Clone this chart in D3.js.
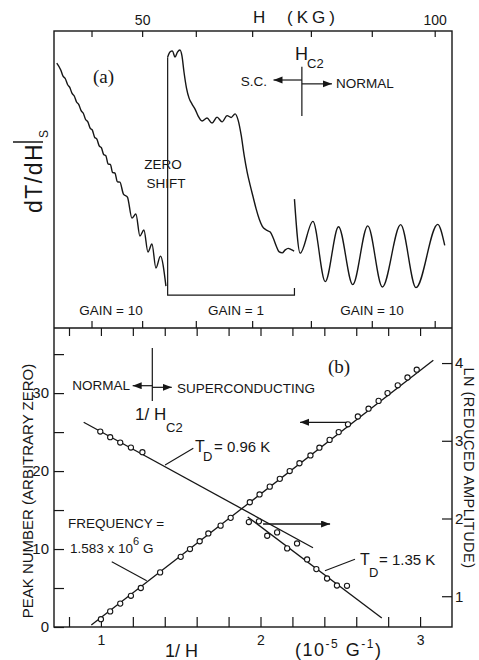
<!DOCTYPE html>
<html>
<head>
<meta charset="utf-8">
<script src="https://cdn.jsdelivr.net/npm/d3@7/dist/d3.min.js"></script>
<style>
body { margin: 0; background: #fff; }
text { font-family: "Liberation Sans", Arial, sans-serif; fill: #161616; }
.serif { font-family: "Liberation Serif", "Times New Roman", serif; }
.axis line { stroke: #161616; stroke-width: 1.2; }
.axis text { fill: #161616; }
</style>
</head>
<body>
<script>
// ---- panel (a): field sweep, H in kG, signal in arbitrary units ----
const hTicks = [40, 50, 60, 70, 80, 90, 100];
const hTickLabels = [50, 100];

// gain 10, superconducting side
const sweepLowGain10 = [
  [32.70, 89.2], [33.56, 86.9], [34.05, 84.8], [34.52, 84.0], [35.01, 82.0],
  [35.48, 81.0], [35.97, 79.0], [36.43, 78.1], [36.91, 76.1], [37.38, 75.2],
  [37.86, 73.2], [38.31, 72.3], [38.79, 70.2], [39.25, 69.4], [39.72, 67.3],
  [40.17, 66.6], [40.64, 64.2], [41.09, 63.6], [41.56, 61.3], [42.00, 60.7],
  [42.46, 58.4], [42.90, 58.0], [43.36, 55.2], [43.80, 55.1], [44.26, 52.3],
  [44.70, 52.2], [45.19, 49.2], [45.69, 49.1], [46.38, 45.1], [47.16, 44.1],
  [48.03, 37.0], [48.80, 38.4], [49.57, 31.0], [50.34, 33.0], [51.11, 25.6],
  [51.87, 28.3], [52.62, 20.2], [53.47, 24.2], [54.50, 14.1]
];
// gain 1, after the zero shift
const sweepGain1 = [
  [54.82, 91.2], [55.25, 92.9], [55.71, 93.3], [56.18, 91.2], [56.64, 92.9],
  [57.10, 93.6], [57.47, 91.6], [57.84, 86.2], [58.30, 80.8], [58.77, 77.4],
  [59.31, 75.4], [59.86, 73.7], [60.41, 71.4], [61.13, 69.7], [62.03, 70.7],
  [62.93, 69.0], [63.82, 71.0], [64.72, 69.4], [65.61, 71.5], [66.32, 70.9],
  [67.02, 72.1], [67.55, 70.0], [68.08, 65.0], [68.60, 58.2], [69.13, 52.5],
  [69.65, 48.1], [70.17, 44.1], [70.69, 40.1], [71.22, 36.7], [71.74, 34.3],
  [72.43, 33.0], [73.12, 32.3], [73.63, 30.3], [74.15, 27.6], [74.66, 25.6],
  [75.17, 25.3], [75.68, 26.3], [76.18, 26.8], [76.69, 26.4], [77.19, 25.9]
];
// gain 10, normal state
const sweepHighGain10 = [
  [77.24, 43.4], [78.20, 25.2], [80.34, 35.9], [82.39, 15.6], [84.58, 34.1],
  [86.91, 14.6], [89.35, 34.4], [91.70, 13.8], [94.63, 34.8], [97.06, 13.6],
  [100.47, 34.9], [101.57, 27.8]
];

// ---- panel (b): 1/H in 1e-5 G^-1 ----
const invHTicks = [0.8, 1.0, 1.2, 1.4, 1.6, 1.8, 2.0, 2.2, 2.4, 2.6, 2.8, 3.0];
const invHLabels = [1, 2, 3];
const peakTicks = [0, 5, 10, 15, 20, 25, 30, 35];
const peakLabels = [0, 10, 20, 30];
const lnTicks = [1, 2, 3, 4];

const peakInvH = [
  1.000, 1.058, 1.121, 1.188, 1.250, 1.371, 1.500, 1.558, 1.619, 1.673,
  1.750, 1.813, 1.933, 1.994, 2.058, 2.121, 2.183, 2.244, 2.313, 2.369,
  2.433, 2.490, 2.548, 2.610, 2.677, 2.740, 2.796, 2.860, 2.921, 2.979
];
const peakNumber = [
  1, 2, 3, 4, 5, 7, 9, 10, 11, 12,
  13, 14, 16, 17, 18, 19, 20, 21, 22, 23,
  24, 25, 26, 27, 28, 29, 30, 31, 32, 33
];

const ampInvH = [
  0.996, 1.058, 1.121, 1.188, 1.260, 1.927, 1.990, 2.042, 2.104, 2.167,
  2.229, 2.292, 2.350, 2.417, 2.479, 2.542
];
const lnAmplitude = [
  3.119, 3.046, 2.977, 2.913, 2.853, 1.954, 1.963, 1.778, 1.821, 1.615,
  1.679, 1.473, 1.349, 1.228, 1.138, 1.134
];

const fitFrequency = [[0.94, 0.26], [3.083, 34.2]];
const fitTd096 = [[0.892, 3.239], [2.329, 1.624]];
const fitTd135 = [[1.92, 2.02], [2.76, 0.721]];

// ---- layout ----
const W = 479, H = 660;
const xLeft = 54, xRight = 452, yTop = 31, yMid = 328, yBottom = 627;

const svg = d3.select("body").append("svg")
  .attr("width", W).attr("height", H);

svg.append("defs").append("marker")
  .attr("id", "head")
  .attr("markerUnits", "userSpaceOnUse")
  .attr("markerWidth", 10).attr("markerHeight", 8)
  .attr("refX", 9).attr("refY", 3.5)
  .attr("orient", "auto")
  .append("path").attr("d", "M0,0 L9,3.5 L0,7 Z").attr("fill", "#161616");

// the recorder's field axis is slightly non-linear
const xH = d3.scalePow().exponent(1.29).domain([32.1, 102.7]).range([xLeft, xRight]);
const yA = d3.scaleLinear().domain([0, 100]).range([yMid, yTop]);
const xB = d3.scaleLinear().domain([0.706, 3.2]).range([xLeft, xRight]);
const yPeak = d3.scaleLinear().domain([0, 38.35]).range([yBottom, yMid]);
const yLn = d3.scaleLinear().domain([0.604, 4.451]).range([yBottom, yMid]);

function styleAxis(g, size) {
  g.select(".domain").remove();
  g.attr("font-family", "Liberation Sans, Arial, sans-serif").attr("font-size", size);
}

// frame
svg.append("rect")
  .attr("x", xLeft).attr("y", yTop)
  .attr("width", xRight - xLeft).attr("height", yBottom - yTop)
  .attr("fill", "none").attr("stroke", "#161616").attr("stroke-width", 1.4);
svg.append("line")
  .attr("x1", xLeft).attr("x2", xRight).attr("y1", yMid).attr("y2", yMid)
  .attr("stroke", "#161616").attr("stroke-width", 1.4);

// axes
svg.append("g").attr("class", "axis")
  .attr("transform", `translate(0,${yTop})`)
  .call(d3.axisTop(xH).tickValues(hTicks).tickSize(-6).tickPadding(6)
    .tickFormat(d => hTickLabels.includes(d) ? d : ""))
  .call(g => styleAxis(g, 14));

svg.append("g").attr("class", "axis")
  .attr("transform", `translate(0,${yMid})`)
  .call(d3.axisBottom(xH).tickValues(hTicks).tickSize(-7).tickFormat(""))
  .call(g => styleAxis(g, 14));

svg.append("g").attr("class", "axis")
  .attr("transform", `translate(0,${yMid})`)
  .call(d3.axisTop(xB).tickValues(invHTicks).tickSize(-8).tickFormat(""))
  .call(g => styleAxis(g, 14));

svg.append("g").attr("class", "axis")
  .attr("transform", `translate(0,${yBottom})`)
  .call(d3.axisBottom(xB).tickValues(invHTicks).tickSize(-10).tickPadding(8)
    .tickFormat(d => invHLabels.includes(d) ? d : ""))
  .call(g => styleAxis(g, 14));

svg.append("g").attr("class", "axis")
  .attr("transform", `translate(${xLeft},0)`)
  .call(d3.axisLeft(yPeak).tickValues(peakTicks).tickSize(-10).tickPadding(5)
    .tickFormat(d => peakLabels.includes(d) ? d : ""))
  .call(g => styleAxis(g, 15));

svg.append("g").attr("class", "axis")
  .attr("transform", `translate(${xRight},0)`)
  .call(d3.axisRight(yLn).tickValues(lnTicks).tickSize(-10).tickPadding(3)
    .tickFormat(d3.format("d")))
  .call(g => styleAxis(g, 15));

// ---- panel (a) traces ----
const sweepLine = d3.line()
  .x(d => xH(d[0])).y(d => yA(d[1]))
  .curve(d3.curveMonotoneX);

[sweepLowGain10, sweepGain1, sweepHighGain10].forEach(s => {
  svg.append("path")
    .attr("d", sweepLine(s))
    .attr("fill", "none").attr("stroke", "#161616").attr("stroke-width", 1.4);
});

// zero shift line and gain-1 bracket
const bracket = [[54.82, 91.2], [54.82, 11.1], [77.24, 11.1], [77.24, 13.5]];
svg.append("path")
  .attr("d", d3.line().x(d => xH(d[0])).y(d => yA(d[1]))(bracket))
  .attr("fill", "none").attr("stroke", "#161616").attr("stroke-width", 1.2);

// Hc2 marker in (a)
const hc2 = 78.49;
svg.append("line")
  .attr("x1", xH(hc2)).attr("x2", xH(hc2)).attr("y1", yA(88)).attr("y2", yA(71.4))
  .attr("stroke", "#161616").attr("stroke-width", 1.2);
svg.append("line")
  .attr("x1", xH(hc2)).attr("x2", xH(73.68)).attr("y1", yA(83.5)).attr("y2", yA(83.5))
  .attr("stroke", "#161616").attr("stroke-width", 1.2).attr("marker-end", "url(#head)");
svg.append("line")
  .attr("x1", xH(hc2)).attr("x2", xH(83.5)).attr("y1", yA(82.2)).attr("y2", yA(82.2))
  .attr("stroke", "#161616").attr("stroke-width", 1.2).attr("marker-end", "url(#head)");

// ---- panel (b) ----
const fitPeak = d3.line().x(d => xB(d[0])).y(d => yPeak(d[1]));
const fitLn = d3.line().x(d => xB(d[0])).y(d => yLn(d[1]));

svg.append("path").attr("d", fitPeak(fitFrequency))
  .attr("fill", "none").attr("stroke", "#161616").attr("stroke-width", 1.3);
svg.append("path").attr("d", fitLn(fitTd096))
  .attr("fill", "none").attr("stroke", "#161616").attr("stroke-width", 1.3);
svg.append("path").attr("d", fitLn(fitTd135))
  .attr("fill", "none").attr("stroke", "#161616").attr("stroke-width", 1.3);

// leaders
svg.append("path").attr("d", fitLn([[1.402, 2.688], [1.579, 2.903]]))
  .attr("fill", "none").attr("stroke", "#161616").attr("stroke-width", 1.1);
svg.append("path").attr("d", fitLn([[2.404, 1.328], [2.592, 1.475]]))
  .attr("fill", "none").attr("stroke", "#161616").attr("stroke-width", 1.1);
svg.append("path").attr("d", fitPeak([[1.068, 8.37], [1.287, 5.94]]))
  .attr("fill", "none").attr("stroke", "#161616").attr("stroke-width", 1.1);

svg.append("g").selectAll("circle")
  .data(d3.zip(peakInvH, peakNumber))
  .join("circle")
  .attr("cx", d => xB(d[0])).attr("cy", d => yPeak(d[1])).attr("r", 2.6)
  .attr("fill", "#fff").attr("stroke", "#161616").attr("stroke-width", 1.1);

svg.append("g").selectAll("circle")
  .data(d3.zip(ampInvH, lnAmplitude))
  .join("circle")
  .attr("cx", d => xB(d[0])).attr("cy", d => yLn(d[1])).attr("r", 2.6)
  .attr("fill", "#fff").attr("stroke", "#161616").attr("stroke-width", 1.1);

// which axis arrows
svg.append("line")
  .attr("x1", xB(2.540)).attr("x2", xB(2.248)).attr("y1", yPeak(26.25)).attr("y2", yPeak(26.25))
  .attr("stroke", "#161616").attr("stroke-width", 1.3).attr("marker-end", "url(#head)");
svg.append("line")
  .attr("x1", xB(2.016)).attr("x2", xB(2.436)).attr("y1", yLn(1.929)).attr("y2", yLn(1.929))
  .attr("stroke", "#161616").attr("stroke-width", 1.3).attr("marker-end", "url(#head)");

// 1/Hc2 marker in (b)
const invHc2 = 1.322;
svg.append("line")
  .attr("x1", xB(invHc2)).attr("x2", xB(invHc2)).attr("y1", yPeak(35.78)).attr("y2", yPeak(28.99))
  .attr("stroke", "#161616").attr("stroke-width", 1.2);
svg.append("line")
  .attr("x1", xB(invHc2)).attr("x2", xB(1.199)).attr("y1", yPeak(30.95)).attr("y2", yPeak(30.95))
  .attr("stroke", "#161616").attr("stroke-width", 1.2).attr("marker-end", "url(#head)");
svg.append("line")
  .attr("x1", xB(invHc2)).attr("x2", xB(1.444)).attr("y1", yPeak(30.74)).attr("y2", yPeak(30.74))
  .attr("stroke", "#161616").attr("stroke-width", 1.2).attr("marker-end", "url(#head)");

// ---- text ----
function label(x, y, str, size, anchor, cls) {
  return svg.append("text")
    .attr("x", x).attr("y", y)
    .attr("font-size", size)
    .attr("text-anchor", anchor || "start")
    .attr("class", cls || null)
    .text(str);
}

label(253, 23, "H", 17);
label(287, 23, "(KG)", 17).attr("letter-spacing", 4);
label(93, 83, "(a)", 19, "start", "serif");
label(295, 60, "H", 18);
label(307, 68, "C2", 13);
label(267, 86, "S.C.", 13.5, "end");
label(336, 88, "NORMAL", 13.5);
label(163, 169, "ZERO", 13.5, "middle");
label(166, 188, "SHIFT", 13.5, "middle");
label(111, 315, "GAIN = 10", 13.5, "middle");
label(236, 315, "GAIN = 1", 13.5, "middle");
label(372, 315, "GAIN = 10", 13.5, "middle");

// dT/dH|s
const yl = svg.append("g").attr("transform", "translate(42,213) rotate(-90)");
yl.append("text").attr("font-size", 23).attr("letter-spacing", 1.5).text("dT/dH");
yl.append("line").attr("x1", 71).attr("x2", 71).attr("y1", -29).attr("y2", 1)
  .attr("stroke", "#161616").attr("stroke-width", 1.5);
yl.append("text").attr("x", 75).attr("y", 6).attr("font-size", 12).text("S");

label(328, 373, "(b)", 19, "start", "serif");
label(130, 390, "NORMAL", 13.5, "end");
label(177, 393, "SUPERCONDUCTING", 13.5);
label(135, 420, "1/ H", 17);
label(166, 432, "C2", 13);

label(195, 452, "T", 16);
label(203, 461, "D", 13);
label(214, 452, "= 0.96 K", 15);
label(360, 565, "T", 16);
label(369, 577, "D", 13);
label(379, 565, "= 1.35 K", 15);

label(68, 528, "FREQUENCY =", 13.5);
const fq = label(70, 553, "1.583 x 10", 13.5);
fq.append("tspan").attr("dy", -8).attr("font-size", 11).text("6");
fq.append("tspan").attr("dy", 8).text(" G");

svg.append("text")
  .attr("transform", "translate(33,491) rotate(-90)")
  .attr("text-anchor", "middle").attr("font-size", 15)
  .text("PEAK NUMBER (ARBITRARY ZERO)");
svg.append("text")
  .attr("transform", "translate(464,468) rotate(90)")
  .attr("text-anchor", "middle").attr("font-size", 14.5)
  .attr("letter-spacing", 0.5)
  .text("LN (REDUCED AMPLITUDE)");

label(165, 657, "1/ H", 18);
const un = label(295, 656, "(10", 18).attr("letter-spacing", 1.5);
un.append("tspan").attr("dy", -8).attr("font-size", 12).text("-5");
un.append("tspan").attr("dy", 8).text(" G");
un.append("tspan").attr("dy", -8).attr("font-size", 12).text("-1");
un.append("tspan").attr("dy", 8).text(")");
</script>
</body>
</html>
